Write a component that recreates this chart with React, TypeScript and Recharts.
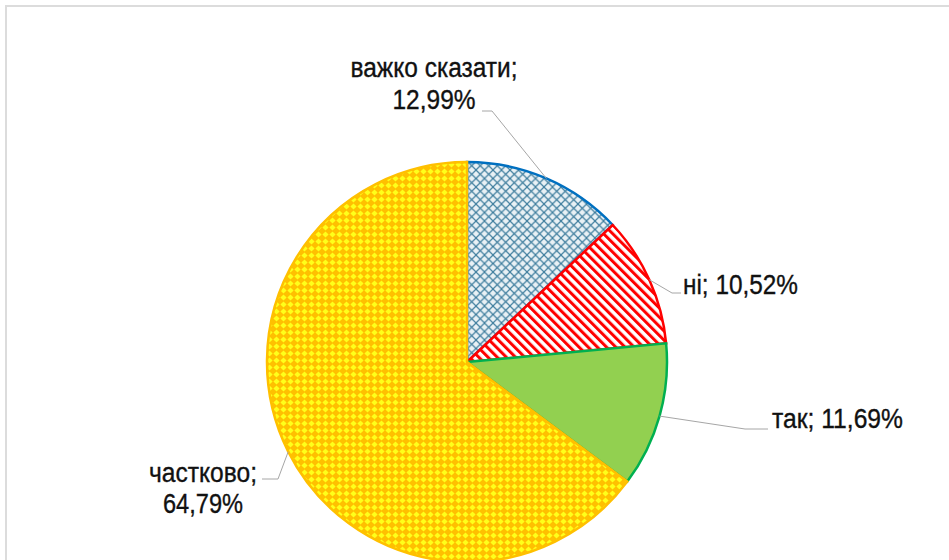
import React from "react";
import { PieChart, Pie, Cell } from "recharts";

// Відповіді (частка, %), по годинниковій стрілці від 12-ї години
const categories = ["важко сказати", "ні", "так", "частково"];
const shares = [12.99, 10.52, 11.69, 64.79];

const fills = ["url(#hatchBlue)", "url(#stripeRed)", "#92d050", "url(#checkYellow)"];
const strokes = ["#0070c0", "#ff0000", "#00b050", "#ffc000"];

// розміщення підписів (відносно центру кола)
const labelLayout = [
  { anchor: "middle", tx: -33, ty: [-285, -253], len: [167, 83], elbow: [[25, -251], [15, -251]] },
  { anchor: "start", tx: 216, ty: [-68], len: [115], elbow: [[205, -69], [214, -69]] },
  { anchor: "start", tx: 305, ty: [66], len: [131], elbow: [[278, 67], [301, 67]] },
  { anchor: "middle", tx: -264, ty: [120, 151], len: [108, 80], elbow: [[-189, 117], [-205, 117]] },
];

const data = categories.map((name, i) => ({ name, value: shares[i] }));

const RADIAN = Math.PI / 180;
const fmt = (v: number) => v.toFixed(2).replace(".", ",") + "%";

const renderLabel = (props: any) => {
  const { cx, cy, midAngle, outerRadius, index, name, value } = props;
  const L = labelLayout[index];
  const ex = cx + outerRadius * Math.cos(-midAngle * RADIAN);
  const ey = cy + outerRadius * Math.sin(-midAngle * RADIAN);
  const pts = [[ex, ey], ...L.elbow.map(([dx, dy]) => [cx + dx, cy + dy])];
  const lines = L.ty.length === 2 ? [`${name};`, fmt(value)] : [`${name}; ${fmt(value)}`];
  return (
    <g key={`lbl-${index}`}>
      <polyline
        points={pts.map((p) => p.join(",")).join(" ")}
        fill="none"
        stroke="#a6a6a6"
        strokeWidth={1}
      />
      {lines.map((t, j) => (
        <text
          key={j}
          x={cx + L.tx}
          y={cy + L.ty[j]}
          textAnchor={L.anchor as any}
          fontSize={27}
          fontFamily="'Liberation Sans', Arial, sans-serif"
          fill="#111111"
          stroke="#111111"
          strokeWidth={0.35}
          textLength={L.len[j]}
          lengthAdjust="spacingAndGlyphs"
        >
          {t}
        </text>
      ))}
    </g>
  );
};

export default function App() {
  return (
    <div
      style={{
        position: "absolute",
        left: 0,
        top: 0,
        width: 949,
        height: 560,
        overflow: "hidden",
        background: "#ffffff",
      }}
    >
      <svg width={0} height={0} style={{ position: "absolute" }}>
        <defs>
          <pattern id="hatchBlue" width={8.5} height={8.5} patternUnits="userSpaceOnUse">
            <rect width={8.5} height={8.5} fill="#e9f1f5" />
            <path d="M0,0 L8.5,8.5 M8.5,0 L0,8.5" stroke="#3f7e9e" strokeWidth={1.2} />
          </pattern>
          <pattern
            id="stripeRed"
            width={6.5}
            height={6.5}
            patternUnits="userSpaceOnUse"
            patternTransform="rotate(-45)"
          >
            <rect width={6.5} height={6.5} fill="#ffffff" />
            <rect width={3} height={6.5} fill="#ff0000" />
          </pattern>
          <pattern id="checkYellow" width={7} height={7} patternUnits="userSpaceOnUse">
            <rect width={7} height={7} fill="#ffc000" />
            <polygon points="3.5,0.4 6.6,3.5 3.5,6.6 0.4,3.5" fill="#ffff1a" />
          </pattern>
        </defs>
      </svg>
      <div
        style={{
          position: "absolute",
          left: 5,
          top: 5,
          width: 1000,
          height: 600,
          border: "2px solid #dcdcdc",
          boxSizing: "border-box",
        }}
      />
      <div style={{ position: "absolute", left: 0, top: 0 }}>
        <PieChart width={949} height={560} margin={{ top: 0, right: 0, bottom: 0, left: 0 }}>
          <Pie
            data={data}
            dataKey="value"
            nameKey="name"
            cx={467}
            cy={362}
            outerRadius={200}
            startAngle={90}
            endAngle={-270}
            label={renderLabel}
            labelLine={false}
            isAnimationActive={false}
          >
            {data.map((d, i) => (
              <Cell key={d.name} fill={fills[i]} stroke={strokes[i]} strokeWidth={2.5} />
            ))}
          </Pie>
        </PieChart>
      </div>
    </div>
  );
}
